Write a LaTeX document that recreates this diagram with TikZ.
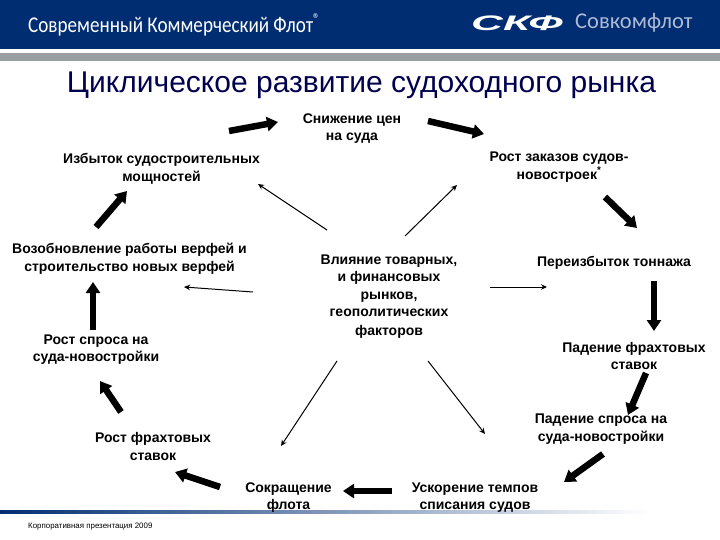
\documentclass[tikz,border=0pt]{standalone}
\usepackage{fontspec}
\setmainfont{Liberation Sans}
\newfontfamily\headfont{Carlito}
\usetikzlibrary{arrows.meta, calc}
\definecolor{scfnavy}{HTML}{002D72}
\definecolor{scfgray}{HTML}{9A9FA2}
\definecolor{scfpale}{HTML}{AEBAD4}
\definecolor{scfink}{HTML}{00004F}

\begin{document}
\begin{tikzpicture}[
  x=1pt, y=1pt, font=\bfseries\fontsize{14}{17.6}\selectfont,
  lbl/.style={align=center, inner sep=1pt, text=black},
  fatarr/.style={-{Triangle[length=11pt, width=14pt]}, line width=6.5pt, black},
  arr/.style={-{Stealth[length=6pt, width=5.5pt]}, line width=1pt, black}
]
\useasboundingbox (0,0) rectangle (720,-540);
% header and footer bands
\fill[scfnavy] (0,0) rectangle (720,-49);
\fill[scfgray] (0,-53) rectangle (720,-61);
\fill[left color=scfnavy, middle color=scfnavy!80, right color=white] (0,-510) rectangle (650,-513);
\node[lbl, text=white, anchor=west, font=\mdseries\headfont\fontsize{22.5}{24}\selectfont] (head) at (27,-25) {\scalebox{0.85}[1]{Современный Коммерческий Флот\textsuperscript{®}}};
\node[lbl, text=white, anchor=west, font=\bfseries\itshape\fontsize{21}{24}\selectfont] (logo) at (470,-23) {\scalebox{2.1}[1]{СКФ}};
\node[lbl, text=scfpale, anchor=west, font=\mdseries\headfont\fontsize{22.5}{24}\selectfont] (sovk) at (574,-23) {Совкомфлот};
\node[lbl, text=scfink, font=\mdseries\fontsize{30}{32}\selectfont] (title) at (361.5,-85) {Циклическое развитие судоходного рынка};
\node[lbl, anchor=west, font=\mdseries\fontsize{7.9}{9}\selectfont] (foot) at (27,-527) {Корпоративная презентация 2009};
% cycle
\node[lbl] (sniz) at (352,-128.5) {Снижение цен\\на суда};
\node[lbl] (zak) at (559,-167) {Рост заказов судов-\\новостроек\textsuperscript{*}};
\node[lbl] (pereiz) at (614,-262.5) {Переизбыток тоннажа};
\node[lbl] (padfr) at (634,-356) {Падение фрахтовых\\ставок};
\node[lbl] (padsp) at (601,-429) {Падение спроса на\\суда-новостройки};
\node[lbl] (usk) at (475,-497.5) {Ускорение темпов\\списания судов};
\node[lbl] (sokr) at (288.5,-497.5) {Сокращение\\флота};
\node[lbl] (rostfr) at (153,-446.5) {Рост фрахтовых\\ставок};
\node[lbl] (spros) at (96,-349.5) {Рост спроса на\\суда-новостройки};
\node[lbl] (voz) at (129.5,-258.5) {Возобновление работы верфей и\\строительство новых верфей};
\node[lbl] (izb) at (161.5,-169) {Избыток судостроительных\\мощностей};
\node[lbl] (vliy) at (389,-296.5) {Влияние товарных,\\и финансовых\\рынков,\\геополитических\\[1pt]факторов};
% thick arrows round the cycle
\draw[fatarr] ($(izb)+(67.5,38)$) -- ($(sniz)+(-74,6.5)$);
\draw[fatarr] ($(sniz)+(76,7.5)$) -- ($(zak)+(-75,33)$);
\draw[fatarr] ($(zak)+(46,-30)$) -- ($(pereiz)+(23,34.5)$);
\draw[fatarr] ($(pereiz)+(40,-18.5)$) -- ($(padfr)+(20,25)$);
\draw[fatarr] ($(padfr)+(12,-17)$) -- ($(padsp)+(27,14)$);
\draw[fatarr] ($(padsp)+(2,-25)$) -- ($(usk)+(89,15.5)$);
\draw[fatarr] ($(usk)+(-83,6.5)$) -- ($(sokr)+(54.5,6.5)$);
\draw[fatarr] ($(sokr)+(-68.5,10.5)$) -- ($(rostfr)+(22,-25.5)$);
\draw[fatarr] ($(rostfr)+(-32,34.5)$) -- ($(spros)+(4,-31.5)$);
\draw[fatarr] ($(spros)+(-3,19.5)$) -- ($(voz)+(-36.5,-23.5)$);
\draw[fatarr] ($(voz)+(-33.5,31.5)$) -- ($(izb)+(-34.5,-22)$);
% thin arrows from the centre
\draw[arr] ($(vliy)+(-62,66.5)$) -- ($(izb)+(96.5,-15)$);
\draw[arr] ($(vliy)+(16,60.5)$) -- ($(zak)+(-102,-18)$);
\draw[arr] ($(vliy)+(101,9.5)$) -- ($(pereiz)+(-67,-24.5)$);
\draw[arr] ($(vliy)+(39,-64.5)$) -- ($(padsp)+(-116,-5)$);
\draw[arr] ($(vliy)+(-52,-64.5)$) -- ($(sokr)+(-7.5,51.5)$);
\draw[arr] ($(vliy)+(-136,4.5)$) -- ($(voz)+(54.5,-28.5)$);
\end{tikzpicture}
\end{document}
